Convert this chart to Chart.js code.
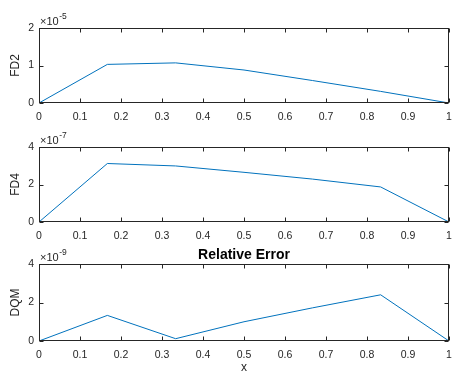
<!DOCTYPE html>
<html>
<head>
<meta charset="utf-8">
<title>Relative Error</title>
<script src="https://cdn.jsdelivr.net/npm/chart.js@4/dist/chart.umd.min.js"></script>
<style>
  html, body { margin: 0; padding: 0; background: #fff; }
  #wrap { position: relative; width: 452px; height: 378px; }
  #wrap canvas { position: absolute; left: 0; top: 0; }
</style>
</head>
<body>
<div id="wrap">
  <canvas id="fd2Chart" width="452" height="378"></canvas>
  <canvas id="fd4Chart" width="452" height="378"></canvas>
  <canvas id="dqmChart" width="452" height="378"></canvas>
</div>
<script>
// data (y values are mantissas, see exponents)
const xValues = [0, 0.1667, 0.3333, 0.5, 0.6667, 0.8333, 1];
const xTicks = [0, 0.1, 0.2, 0.3, 0.4, 0.5, 0.6, 0.7, 0.8, 0.9, 1];

const fd2Values = [0, 1.03, 1.07, 0.88, 0.6, 0.31, 0];
const fd2Ticks = [0, 1, 2];
const fd2Exponent = "-5";

const fd4Values = [0, 3.12, 2.99, 2.65, 2.29, 1.87, 0];
const fd4Ticks = [0, 2, 4];
const fd4Exponent = "-7";

const dqmValues = [0, 1.33, 0.12, 1.0, 1.72, 2.4, 0];
const dqmTicks = [0, 2, 4];
const dqmExponent = "-9";

const FONT = "'Liberation Sans', Arial, Helvetica, sans-serif";
const TEXT_COLOR = "#262626";
const AXIS_COLOR = "#262626";
const LINE_COLOR = "#0072BD";
const W = 452, H = 378;
const AXIS_LEFT = 39, AXIS_RIGHT = 449;
const Y_SCALE_WIDTH = 25, X_SCALE_HEIGHT = 20;
const TICK_LEN = 4;

// MATLAB look: full box, inward ticks on all four sides, labels, exponent
const matlabAxes = {
  id: "matlabAxes",
  afterDraw(chart, args, opts) {
    const { ctx, chartArea: a, scales } = chart;
    const l = Math.round(a.left) + 0.5, r = Math.round(a.right) - 0.5;
    const t = Math.round(a.top) + 0.5, b = Math.round(a.bottom) - 0.5;
    ctx.save();
    ctx.strokeStyle = AXIS_COLOR;
    ctx.lineWidth = 1;
    ctx.strokeRect(l, t, r - l, b - t);
    ctx.beginPath();
    scales.x.ticks.forEach((tk) => {
      const px = Math.round(scales.x.getPixelForValue(tk.value)) + 0.5;
      ctx.moveTo(px, b); ctx.lineTo(px, b - TICK_LEN);
      ctx.moveTo(px, t); ctx.lineTo(px, t + TICK_LEN);
    });
    scales.y.ticks.forEach((tk) => {
      const py = Math.round(scales.y.getPixelForValue(tk.value)) + 0.5;
      ctx.moveTo(l, py); ctx.lineTo(l + TICK_LEN, py);
      ctx.moveTo(r, py); ctx.lineTo(r - TICK_LEN, py);
    });
    ctx.stroke();

    ctx.fillStyle = TEXT_COLOR;
    // exponent label
    ctx.textAlign = "left";
    ctx.textBaseline = "alphabetic";
    ctx.font = "11px " + FONT;
    ctx.fillText("\u00d710", a.left + 1, a.top - 3);
    const w = ctx.measureText("\u00d710").width;
    ctx.font = "8.5px " + FONT;
    ctx.fillText(opts.exponent, a.left + 1.5 + w, a.top - 9);

    // y label
    ctx.save();
    ctx.translate(18.5, (a.top + a.bottom) / 2);
    ctx.rotate(-Math.PI / 2);
    ctx.textAlign = "center";
    ctx.font = "12px " + FONT;
    ctx.fillText(opts.label, 0, 0);
    ctx.restore();

    if (opts.title) {
      ctx.textAlign = "center";
      ctx.font = "bold 14px " + FONT;
      ctx.fillStyle = "#000";
      ctx.fillText(opts.title, (a.left + a.right) / 2, a.top - 5);
    }
    if (opts.xlabel) {
      ctx.textAlign = "center";
      ctx.fillStyle = TEXT_COLOR;
      ctx.font = "12px " + FONT;
      ctx.fillText(opts.xlabel, (a.left + a.right) / 2, a.bottom + 30);
    }
    ctx.restore();
  },
};

function makePanel(id, values, yTicks, exponent, label, top, bottom, extra = {}) {
  const canvas = document.getElementById(id);
  return new Chart(canvas, {
    type: "line",
    data: {
      datasets: [
        {
          data: xValues.map((x, i) => ({ x, y: values[i] })),
          borderColor: LINE_COLOR,
          borderWidth: 1,
          pointRadius: 0,
          tension: 0,
          fill: false,
        },
      ],
    },
    options: {
      responsive: false,
      animation: false,
      events: [],
      layout: {
        padding: {
          left: AXIS_LEFT - Y_SCALE_WIDTH,
          right: W - AXIS_RIGHT,
          top: top,
          bottom: H - bottom - X_SCALE_HEIGHT,
        },
      },
      scales: {
        x: {
          type: "linear",
          min: xTicks[0],
          max: xTicks[xTicks.length - 1],
          afterBuildTicks: (s) => { s.ticks = xTicks.map((v) => ({ value: v })); },
          afterFit: (s) => { s.height = X_SCALE_HEIGHT; s.paddingLeft = 0; s.paddingRight = 0; },
          grid: { display: false, drawTicks: false },
          border: { display: false },
          ticks: {
            padding: 8,
            color: TEXT_COLOR,
            font: { family: FONT, size: 10.5 },
            maxRotation: 0,
            autoSkip: false,
            callback: (v) => String(Math.round(v * 10) / 10),
          },
        },
        y: {
          type: "linear",
          min: yTicks[0],
          max: yTicks[yTicks.length - 1],
          afterBuildTicks: (s) => { s.ticks = yTicks.map((v) => ({ value: v })); },
          afterFit: (s) => { s.width = Y_SCALE_WIDTH; s.paddingTop = 0; s.paddingBottom = 0; },
          grid: { display: false, drawTicks: false },
          border: { display: false },
          ticks: {
            padding: 5,
            color: TEXT_COLOR,
            font: { family: FONT, size: 10.5 },
            callback: (v) => String(v),
          },
        },
      },
      plugins: {
        legend: { display: false },
        tooltip: { enabled: false },
        matlabAxes: { exponent, label, ...extra },
      },
    },
    plugins: [matlabAxes],
  });
}

makePanel("fd2Chart", fd2Values, fd2Ticks, fd2Exponent, "FD2", 28, 103);
makePanel("fd4Chart", fd4Values, fd4Ticks, fd4Exponent, "FD4", 147, 222);
makePanel("dqmChart", dqmValues, dqmTicks, dqmExponent, "DQM", 264, 341, {
  title: "Relative Error",
  xlabel: "x",
});
</script>
</body>
</html>
